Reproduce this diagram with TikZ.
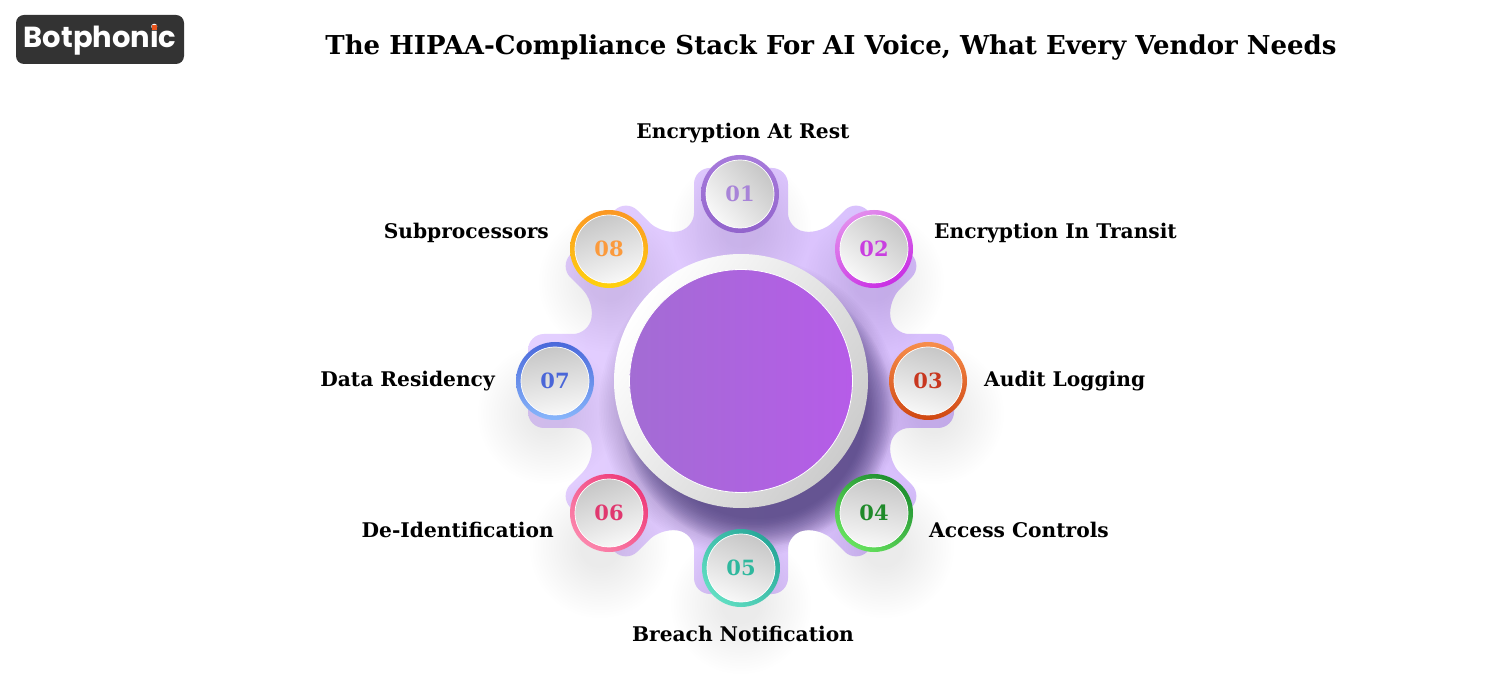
\documentclass[tikz,border=0pt]{standalone}
\usepackage{fontspec}
\newfontfamily\slabfont{DejaVu Serif}
\newfontfamily\logofont{Poppins}
\usetikzlibrary{calc}
\definecolor{gearA}{HTML}{E4D0FF}
\definecolor{gearB}{HTML}{D6BDFC}
\definecolor{shadeDark}{HTML}{2E2060}
\definecolor{softGrey}{HTML}{3A3045}
\definecolor{logoBg}{HTML}{333333}
\definecolor{logoDot}{HTML}{E8551E}
\tikzset{
  titletext/.style={font=\slabfont\bfseries\fontsize{26}{28}\selectfont,text=black,inner sep=0pt},
  labeltext/.style={font=\slabfont\bfseries\fontsize{20.2}{23}\selectfont,text=black,inner sep=0pt},
  rimdisc/.style={circle,inner sep=0pt,minimum size=78pt},
  facedisc/.style={circle,inner sep=0pt,minimum size=68pt,draw=white,line width=0.7pt,font=\slabfont\bfseries\fontsize{21}{23}\selectfont},
}
\newcommand{\softshadow}[6]{%
  \foreach \i in {0,...,19}{%
    \pgfmathsetmacro{\rr}{#4+(#3-#4)*\i/19}%
    \fill[#5,opacity=#6] (#1,#2) circle (\rr);
  }}
\newcommand{\gearpath}{(0,213) -- (47,213) -- (47,152) -- (80,147) -- (115,182) -- (182,115) -- (147,80) -- (152,47) -- (213,47)
  -- (213,-47) -- (152,-47) -- (147,-80) -- (182,-115) -- (115,-182) -- (80,-147) -- (47,-152) -- (47,-213)
  -- (-47,-213) -- (-47,-152) -- (-80,-147) -- (-115,-182) -- (-182,-115) -- (-147,-80) -- (-152,-47) -- (-213,-47)
  -- (-213,47) -- (-152,47) -- (-147,80) -- (-182,115) -- (-115,182) -- (-80,147) -- (-47,152) -- (-47,213) -- cycle}
% name, x, y, rim top, rim bottom, rim angle, face angle, number colour, number
\newcommand{\badge}[9]{%
  \node[rimdisc,top color=#4,bottom color=#5,shading angle=#6] (rim#1) at (#2,#3) {};
  \node[facedisc,top color=black!22,bottom color=black!3,shading angle=#7,text=#8] (face#1) at (rim#1.center) {#9};
}
\begin{document}
\begin{tikzpicture}[x=1pt,y=-1pt]
\useasboundingbox (0,0) rectangle (1500,700);
\fill[white] (0,0) rectangle (1500,700);
% logo
\node[fill=logoBg,rounded corners=8pt,minimum width=168pt,minimum height=49pt,inner sep=0pt,anchor=north west,line width=0pt] (logobox) at (16,15) {};
\node[font=\logofont\bfseries\fontsize{29}{32}\selectfont,text=white,inner sep=0pt,anchor=base] (logotext) at (100,48) {Botphonic};
\fill[logoDot] (151.5,25) rectangle (156.5,30);
% title
\node[titletext,anchor=base] (title) at (831,54.5) {The HIPAA-Compliance Stack For AI Voice, What Every Vendor Needs};
% gear
\begin{scope}[shift={(741,381)},y=1pt]
  \shade[left color=gearA,right color=gearB,rounded corners=16pt] \gearpath;
\end{scope}
% soft shadows of the badges
\softshadow{741}{228}{70}{20}{softGrey}{0.0035}
\softshadow{874}{282}{70}{20}{softGrey}{0.0035}
\softshadow{934}{414}{70}{20}{softGrey}{0.004}
\softshadow{884}{548}{70}{20}{softGrey}{0.004}
\softshadow{741}{604}{70}{20}{softGrey}{0.004}
\softshadow{600}{548}{70}{20}{softGrey}{0.004}
\softshadow{548}{414}{70}{20}{softGrey}{0.004}
\softshadow{609}{282}{70}{20}{softGrey}{0.0035}
% shadow of the ring, kept on the gear
\begin{scope}
  \begin{scope}[shift={(741,381)},y=1pt]
    \clip[rounded corners=16pt] \gearpath;
    \softshadow{8}{-26}{150}{118}{shadeDark}{0.014}
    \softshadow{16}{-30}{136}{108}{shadeDark}{0.03}
  \end{scope}
\end{scope}
% central disc
\node[circle,inner sep=0pt,minimum size=254pt,top color=black!20,bottom color=white,shading angle=-125] (ring) at (741,381) {};
\node[circle,inner sep=0pt,minimum size=223pt,draw=white,line width=0.8pt,left color={rgb,255:red,163;green,108;blue,212},right color={rgb,255:red,182;green,92;blue,232}] (core) at (ring.center) {};
% badges
\definecolor{p1a}{HTML}{A77BDB}\definecolor{p1b}{HTML}{9264CC}\definecolor{t1}{HTML}{A884D8}
\definecolor{p2a}{HTML}{E28CEC}\definecolor{p2b}{HTML}{C92FE4}\definecolor{t2}{HTML}{C93FE0}
\definecolor{p3a}{HTML}{F78E4C}\definecolor{p3b}{HTML}{CF4712}\definecolor{t3}{HTML}{C8371F}
\definecolor{p4a}{HTML}{1F8F30}\definecolor{p4b}{HTML}{66E25E}\definecolor{t4}{HTML}{1F8A2A}
\definecolor{p5a}{HTML}{28A899}\definecolor{p5b}{HTML}{60DEC2}\definecolor{t5}{HTML}{2FB89E}
\definecolor{p6a}{HTML}{EE3B7A}\definecolor{p6b}{HTML}{FB86AC}\definecolor{t6}{HTML}{E0386F}
\definecolor{p7a}{HTML}{4A68DA}\definecolor{p7b}{HTML}{88B6FB}\definecolor{t7}{HTML}{4A66D8}
\definecolor{p8a}{HTML}{FB9724}\definecolor{p8b}{HTML}{FFD20E}\definecolor{t8}{HTML}{FB9A3C}
\badge{1}{740}{194}{p1a}{p1b}{0}{-50}{t1}{01}
\badge{2}{874}{249}{p2a}{p2b}{30}{-40}{t2}{02}
\badge{3}{928}{381}{p3a}{p3b}{0}{-15}{t3}{03}
\badge{4}{874}{513}{p4a}{p4b}{-35}{-10}{t4}{04}
\badge{5}{741}{568}{p5a}{p5b}{-45}{-20}{t5}{05}
\badge{6}{609}{513}{p6a}{p6b}{-45}{20}{t6}{06}
\badge{7}{555}{381}{p7a}{p7b}{0}{10}{t7}{07}
\badge{8}{609}{249}{p8a}{p8b}{0}{20}{t8}{08}
% labels
\node[labeltext,anchor=base] (l1) at (743,138.5) {Encryption At Rest};
\node[labeltext,anchor=base west] (l2) at (934,238.5) {Encryption In Transit};
\node[labeltext,anchor=base west] (l3) at (984,386.5) {Audit Logging};
\node[labeltext,anchor=base west] (l4) at (929,537.5) {Access Controls};
\node[labeltext,anchor=base] (l5) at (743,641.5) {Breach Notification};
\node[labeltext,anchor=base east] (l6) at (554,537.5) {De-Identification};
\node[labeltext,anchor=base east] (l7) at (495,386.5) {Data Residency};
\node[labeltext,anchor=base east] (l8) at (549,238.5) {Subprocessors};
\end{tikzpicture}
\end{document}
